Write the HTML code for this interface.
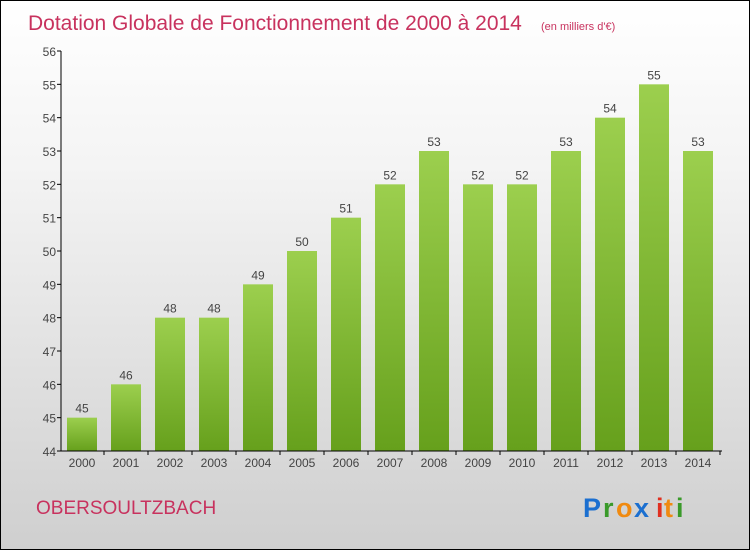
<!DOCTYPE html>
<html><head><meta charset="utf-8"><style>
body{margin:0}
#w{position:relative;width:748px;height:548px;border:1px solid #000;background:linear-gradient(#fff,#f4f4f4 30%,#cfcfcf);overflow:hidden;font-family:"Liberation Sans",sans-serif}
</style></head><body>
<div id="w">
<svg width="748" height="548" id="s">
<text x="27" y="29" font-size="21" fill="#c8325e">Dotation Globale de Fonctionnement de 2000 à 2014</text>
<text x="540" y="29" font-size="11" fill="#c8325e">(en milliers d'€)</text>
<text x="35" y="513" font-size="19" fill="#c8325e">OBERSOULTZBACH</text>
<g font-size="27" font-weight="bold" font-family="Liberation Sans, sans-serif">
<text x="582" y="516" fill="#1b6fd0">P</text><text x="602" y="516" fill="#3a9a2a">r</text><text x="615" y="516" fill="#f08a10">o</text><text x="633" y="516" fill="#1b6fd0">x</text><text x="655" y="516" fill="#e03020">i</text><text x="663" y="516" fill="#f08a10">t</text><text x="675" y="516" fill="#3a9a2a">i</text></g>
<defs><linearGradient id="g" x1="0" y1="0" x2="0" y2="1"><stop offset="0" stop-color="#9ccf4e"/><stop offset="1" stop-color="#66a01c"/></linearGradient></defs>
<g id="bars"></g><g id="ax"></g>
</svg></div>
<script>
const years=[2000,2001,2002,2003,2004,2005,2006,2007,2008,2009,2010,2011,2012,2013,2014];
const values=[45,46,48,48,49,50,51,52,53,52,52,53,54,55,53];
const yTicks=[44,45,46,47,48,49,50,51,52,53,54,55,56];
const NS="http://www.w3.org/2000/svg";
const y=v=>450-(v-44)*400/12;
const x=i=>81+i*44;
function mk(t,a,p,txt){const e=document.createElementNS(NS,t);for(const k in a)e.setAttribute(k,a[k]);if(txt!==undefined)e.textContent=txt;p.appendChild(e);return e;}
const B=document.getElementById('bars'),A=document.getElementById('ax');
values.forEach((v,i)=>{
 const r=mk('rect',{x:x(i)-15,y:y(v),width:30,height:450-y(v),fill:'url(#g)'},B);
 
 
 const t=mk('text',{x:x(i),y:y(v)-5,'text-anchor':'middle','font-size':12,fill:'#444'},B,v);
 
 
 const l=mk('text',{x:x(i),y:466,'text-anchor':'middle','font-size':12,fill:'#444'},A,years[i]);
 
 
 mk('line',{x1:x(i)+22,x2:x(i)+22,y1:450,y2:454,stroke:'#000'},A);
});
yTicks.forEach(v=>{
 mk('line',{x1:56,x2:60,y1:y(v),y2:y(v),stroke:'#000'},A);
 const t=mk('text',{x:55,y:y(v)+5,'text-anchor':'end','font-size':12,fill:'#444'},A,v);
 
 
});
const ya=mk('line',{x1:60,x2:60,y1:50,y2:450,stroke:'#000'},A);


const xa=mk('line',{x1:60,x2:721,y1:450,y2:450,stroke:'#000'},A);


</script>
</body></html>
